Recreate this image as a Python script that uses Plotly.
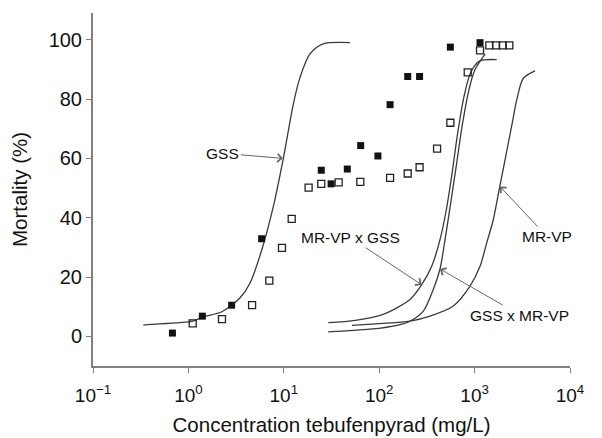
import plotly.graph_objects as go

# Observed data (concentration mg/L, mortality %)
filled_x = [0.68, 1.40, 2.84, 5.86, 24.7, 31.3, 46.3, 64.0, 97.0, 130, 199, 265, 557, 1140]
filled_y = [1.1, 6.8, 10.5, 32.9, 56.0, 51.4, 56.4, 64.3, 60.8, 78.1, 87.6, 87.6, 97.5, 99.0]

open_x = [1.11, 2.25, 4.65, 7.05, 9.57, 12.1, 18.2, 24.7, 37.6, 63.4, 130, 199, 265, 404, 557, 847,
          1140, 1426, 1679, 1972, 2312]
open_y = [4.4, 5.8, 10.5, 18.8, 29.8, 39.6, 50.1, 51.4, 51.9, 52.1, 53.4, 54.9, 57.0, 63.3, 72.0, 89.0,
          96.4, 98.1, 98.1, 98.1, 98.1]

# Fitted curves
gss_x = [0.337, 0.398, 1.11, 1.40, 2.25, 3.48, 4.43, 5.86, 7.76, 9.89, 12.6, 14.8, 18.8, 25.9, 49.4]
gss_y = [3.8, 4.0, 5.1, 6.5, 8.3, 13.0, 18.0, 29.0, 43.7, 60.0, 78.4, 87.3, 95.2, 98.6, 99.0]

mrvp_gss_x = [29.2, 56.2, 110, 210, 279, 355, 434, 501, 575, 661, 776, 912, 1122, 1706]
mrvp_gss_y = [4.6, 5.4, 7.4, 12.4, 17.4, 23.6, 32.6, 42.0, 54.0, 68.0, 81.0, 89.0, 92.8, 93.3]

gss_mrvp_x = [29.2, 80.2, 158, 210, 290, 369, 434, 490, 562, 646, 741, 871, 1000, 1288]
gss_mrvp_y = [1.5, 2.4, 3.8, 5.1, 8.5, 15.8, 22.7, 32.6, 45.0, 58.0, 71.0, 83.0, 89.6, 95.2]

mrvp_x = [51.9, 100, 210, 341, 598, 895, 1140, 1340, 1570, 1778, 1995, 2239, 2512, 2760, 3240, 4300]
mrvp_y = [3.7, 4.3, 5.1, 6.8, 10.2, 16.9, 23.6, 31.5, 39.3, 48.2, 56.4, 64.6, 72.8, 79.6, 87.0, 89.5]

x_tickvals = [0.1, 1, 10, 100, 1000, 10000]
x_ticktext = ["10<sup>\u22121</sup>", "10<sup>0</sup>", "10<sup>1</sup>", "10<sup>2</sup>",
              "10<sup>3</sup>", "10<sup>4</sup>"]
y_tickvals = [0, 20, 40, 60, 80, 100]

FONT = "Liberation Sans, Arial, Helvetica, sans-serif"
LINE = "#3a3a3a"

fig = go.Figure()
for cx, cy in [(gss_x, gss_y), (mrvp_gss_x, mrvp_gss_y), (gss_mrvp_x, gss_mrvp_y), (mrvp_x, mrvp_y)]:
    fig.add_trace(go.Scatter(x=cx, y=cy, mode="lines",
                             line=dict(color=LINE, width=1.3, shape="spline", smoothing=0.8),
                             showlegend=False, hoverinfo="skip"))

fig.add_trace(go.Scatter(x=open_x, y=open_y, mode="markers",
                         marker=dict(symbol="square-open", size=7, color="#222222", line=dict(width=1.3)),
                         showlegend=False))
fig.add_trace(go.Scatter(x=filled_x, y=filled_y, mode="markers",
                         marker=dict(symbol="square", size=7, color="#111111", line=dict(width=0)),
                         showlegend=False))

ann_font = dict(family=FONT, size=15.5, color="#111111")
arrow = dict(showarrow=True, arrowhead=4, arrowsize=1.6, arrowwidth=1, arrowcolor="#666666",
             axref="pixel", ayref="pixel", font=ann_font, standoff=0)
fig.add_annotation(x=0.99, y=60, text="GSS", ax=-60, ay=-5, **arrow)
fig.add_annotation(x=2.445, y=17.4, text="MR-VP x GSS", ax=-71, ay=-47, **arrow)
fig.add_annotation(x=2.637, y=22.7, text="GSS x MR-VP", ax=80, ay=46, **arrow)
fig.add_annotation(x=3.266, y=50.5, text="MR-VP", ax=47, ay=50, **arrow)

fig.update_layout(
    width=602, height=438,
    margin=dict(l=85, r=40, t=5, b=80),
    paper_bgcolor="white", plot_bgcolor="white",
    font=dict(family=FONT, color="#111111"),
    showlegend=False,
)
fig.update_xaxes(type="log", range=[-1, 4], tickvals=x_tickvals, ticktext=x_ticktext,
                 showgrid=False, zeroline=False, showline=True, linecolor="#808080", linewidth=2,
                 ticks="outside", ticklen=5, tickcolor="#808080", tickwidth=1,
                 ticklabelstandoff=6,
                 tickfont=dict(size=19, family=FONT, color="#111111"),
                 title=dict(text="Concentration tebufenpyrad (mg/L)", font=dict(size=20.5, family=FONT),
                            standoff=13))
fig.update_yaxes(range=[-10, 109], tickvals=y_tickvals,
                 showgrid=False, zeroline=False, showline=True, linecolor="#808080", linewidth=2,
                 ticks="outside", ticklen=5, tickcolor="#808080", tickwidth=1,
                 tickfont=dict(size=20, family=FONT, color="#111111"),
                 title=dict(text="Mortality (%)", font=dict(size=20.5, family=FONT), standoff=20))

fig.write_html("out.html")
